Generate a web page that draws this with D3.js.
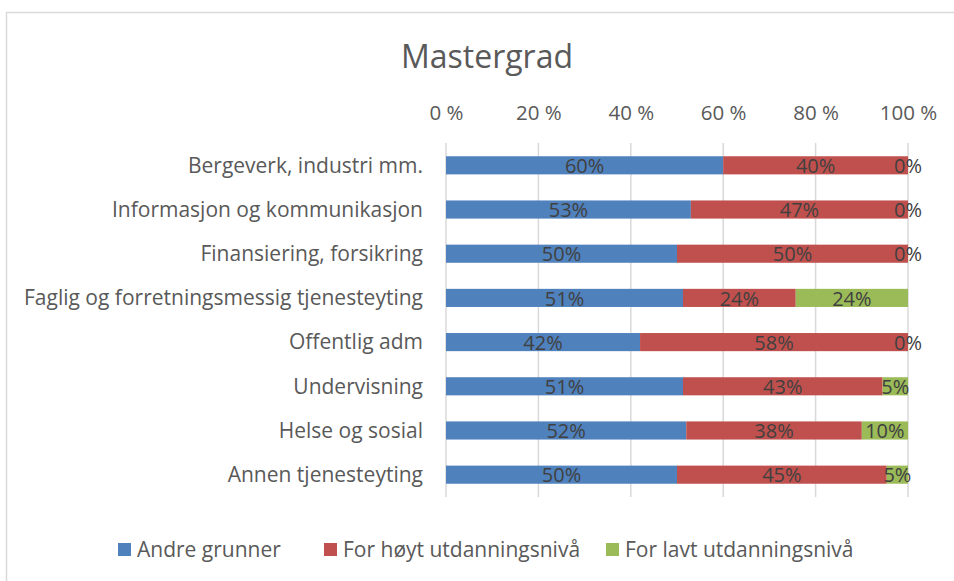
<!DOCTYPE html>
<html>
<head>
<meta charset="utf-8">
<script src="https://cdn.jsdelivr.net/npm/d3@7"></script>
<style>
  body { margin: 0; background: #fff; }
  svg text { font-family: "Open Sans", Lato, sans-serif; fill: #595959; }
</style>
</head>
<body>
<svg width="954" height="581"></svg>
<script>
var categories = ["Bergeverk, industri mm.", "Informasjon og kommunikasjon", "Finansiering, forsikring",
    "Faglig og forretningsmessig tjenesteyting", "Offentlig adm", "Undervisning", "Helse og sosial", "Annen tjenesteyting"];
var seriesNames = ["Andre grunner", "For høyt utdanningsnivå", "For lavt utdanningsnivå"];
var andre = [0.60, 0.53, 0.50, 0.513, 0.42, 0.513, 0.52, 0.50];
var hoyt  = [0.40, 0.47, 0.50, 0.244, 0.58, 0.432, 0.38, 0.454];
var lavt  = [0.00, 0.00, 0.00, 0.243, 0.00, 0.055, 0.10, 0.046];
var ticks = [0, 0.2, 0.4, 0.6, 0.8, 1];
var colors = ["#4f81bd", "#c0504d", "#9bbb59"];

var svg = d3.select("svg");

// chart frame
svg.append("rect")
    .attr("x", 6.5).attr("y", 12.5)
    .attr("width", 1000).attr("height", 600)
    .attr("fill", "none").attr("stroke", "#d9d9d9").attr("stroke-width", 1.5);

svg.append("text")
    .attr("x", 487).attr("y", 68)
    .attr("text-anchor", "middle")
    .style("font-size", "32px")
    .text("Mastergrad");

var data = categories.map(function(c, i) {
    return {cat: c, s0: andre[i], s1: hoyt[i], s2: lavt[i]};
});

var x = d3.scaleLinear().domain([0, 1]).range([446, 908]);
var y = d3.scaleBand().domain(categories).range([143, 497]).paddingInner(0.59).paddingOuter(0.3);

var stack = d3.stack().keys(["s0", "s1", "s2"]);
var layers = stack(data);

// gridlines
svg.append("g").selectAll("line")
    .data(ticks)
    .enter().append("line")
    .attr("x1", d => x(d)).attr("x2", d => x(d))
    .attr("y1", 143).attr("y2", 497)
    .attr("stroke", "#d9d9d9").attr("stroke-width", 1.5);

// top axis labels
var xAxis = svg.append("g")
    .attr("transform", "translate(0,120)")
    .call(d3.axisTop(x).tickValues(ticks).tickSize(0).tickPadding(0)
        .tickFormat(d => Math.round(d * 100) + " %"));
xAxis.select(".domain").remove();
xAxis.selectAll("text").style("font-size", "20.5px").attr("fill", "#595959");

// category labels
var yAxis = svg.append("g")
    .attr("transform", "translate(423,0)")
    .call(d3.axisLeft(y).tickSize(0).tickPadding(0));
yAxis.select(".domain").remove();
yAxis.selectAll("text").style("font-size", "21px").attr("fill", "#595959").attr("dy", "0.35em");

// bars
var layerG = svg.append("g").selectAll("g")
    .data(layers)
    .enter().append("g")
    .attr("fill", (d, i) => colors[i]);

layerG.selectAll("rect")
    .data(d => d)
    .enter().append("rect")
    .attr("x", d => x(d[0]))
    .attr("y", d => y(d.data.cat))
    .attr("width", d => x(d[1]) - x(d[0]))
    .attr("height", y.bandwidth());

// data labels
var fmt = d3.format(".0%");
layerG.selectAll("text")
    .data(d => d)
    .enter().append("text")
    .attr("x", d => (x(d[0]) + x(d[1])) / 2)
    .attr("y", d => y(d.data.cat) + y.bandwidth() / 2)
    .attr("dy", "0.38em")
    .attr("text-anchor", "middle")
    .style("font-size", "20px")
    .style("fill", "#404040")
    .text(d => fmt(d[1] - d[0]));

// legend
var legendX = [118, 324, 606];
var legend = svg.append("g").selectAll("g")
    .data(seriesNames)
    .enter().append("g")
    .attr("transform", (d, i) => "translate(" + legendX[i] + ",543)");
legend.append("rect")
    .attr("width", 13).attr("height", 13)
    .attr("fill", (d, i) => colors[i]);
legend.append("text")
    .attr("x", 19).attr("y", 6.5).attr("dy", "0.36em")
    .style("font-size", "21px")
    .text(d => d);
</script>
</body>
</html>
